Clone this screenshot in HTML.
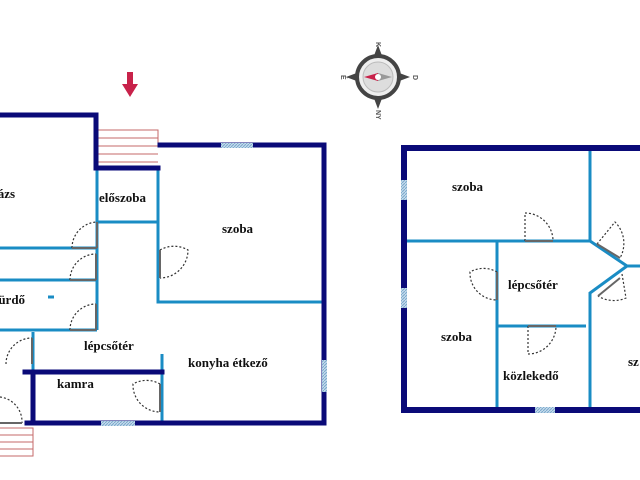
<!DOCTYPE html>
<html><head><meta charset="utf-8"><style>
html,body{margin:0;padding:0;background:#fff}
svg{display:block}
text{font-family:"Liberation Serif",serif;font-weight:bold;font-size:13px;fill:#111}
</style></head><body>
<svg width="640" height="480" viewBox="0 0 640 480" xmlns="http://www.w3.org/2000/svg">
<defs>
<pattern id="win" width="3" height="3" patternUnits="userSpaceOnUse"><rect width="3" height="3" fill="#c6dcec"/><path d="M0,3L3,0" stroke="#7aa8cc" stroke-width="1"/></pattern>
</defs>
<path d="M127,72h6v12h5l-8,13-8,-13h5z" fill="#c8224a"/>
<g stroke="#c46a6a" stroke-width="1" fill="none">
<path d="M98,130H158V145M98,138H158M98,146H158M98,154H158M98,162H158"/>
<path d="M0,428H33V456H0M0,435H33M0,442H33M0,449H33"/>
</g>
<g stroke="#1a8cc4" stroke-width="3" fill="none">
<path d="M97,170V330M97,222H158M158,170V302H322M0,248H97M0,280H97M0,330H97M33,332V372M162,354V423"/>
<path d="M48,297h6"/>
</g>
<g stroke="#0a0a78" stroke-width="5" fill="none" stroke-linecap="square">
<path d="M0,115H96V168H158M160,145H324V423H27"/>
<path d="M33,372V423M25,372H162"/>
</g>
<rect x="221" y="143" width="32" height="5" fill="url(#win)"/>
<rect x="322" y="360" width="5" height="32" fill="url(#win)"/>
<rect x="101" y="421" width="34" height="5" fill="url(#win)"/>
<g stroke="#333" stroke-width="1.2" stroke-dasharray="2,2" fill="none">
<path d="M72,248A26,26 0 0 1 97,222"/>
<path d="M70,280A26,26 0 0 1 96,254"/>
<path d="M70,330A26,26 0 0 1 96,304"/>
<path d="M160,250A28,28 0 0 1 188,250A28,28 0 0 1 160,278"/>
<path d="M6,364A26,26 0 0 1 32,338"/>
<path d="M160,384A27,27 0 0 0 133,384A27,27 0 0 0 160,412"/>
<path d="M0,397A25,25 0 0 1 22,423"/>
</g>
<g stroke="#666" stroke-width="2" fill="none">
<path d="M97,222V248M72,248H97M96,254V280M70,280H96M96,304V330M70,330H96M160,250V278M32,338V364M160,384V412M0,423H22"/>
</g>
<text x="-8" y="198">rázs</text>
<text x="99" y="202">előszoba</text>
<text x="222" y="233">szoba</text>
<text x="-6" y="304">fürdő</text>
<text x="84" y="350">lépcsőtér</text>
<text x="188" y="367">konyha étkező</text>
<text x="57" y="388">kamra</text>
<g stroke="#1a8cc4" stroke-width="3" fill="none">
<path d="M404,241H590V150M497,241V408M497,326H586M590,241L627,266H640M627,266L590,293V408"/>
</g>
<g stroke="#0a0a78" stroke-width="6" fill="none">
<path d="M640,148H404V410H640"/>
</g>
<rect x="401" y="180" width="6" height="20" fill="url(#win)"/>
<rect x="401" y="288" width="6" height="20" fill="url(#win)"/>
<rect x="535" y="407" width="20" height="6" fill="url(#win)"/>
<g stroke="#333" stroke-width="1.2" stroke-dasharray="2,2" fill="none">
<path d="M525,241V213A28,28 0 0 1 553,241"/>
<path d="M497,272A27,27 0 0 0 470,272A27,27 0 0 0 497,300"/>
<path d="M528,326V354A28,28 0 0 0 556,326"/>
<path d="M597,244L615,222A30,30 0 0 1 620,258"/>
<path d="M622,274L626,298A30,30 0 0 1 598,296"/>
</g>
<g stroke="#666" stroke-width="2" fill="none">
<path d="M525,241H553M497,272V300M528,326H556M597,244L620,258M620,278L598,296"/>
</g>
<text x="452" y="191">szoba</text>
<text x="508" y="289">lépcsőtér</text>
<text x="441" y="341">szoba</text>
<text x="503" y="380">közlekedő</text>
<text x="628" y="366">sz</text>
<g transform="translate(378,77)">
<path d="M0,-32L6,-16L-6,-16ZM0,32L6,16L-6,16ZM-32,0L-16,6L-16,-6ZM32,0L16,6L16,-6Z" fill="#444"/>
<circle r="21" fill="#eee" stroke="#444" stroke-width="4"/>
<circle r="15" fill="#ddd" stroke="#bbb"/>
<path d="M-14,0L0,-4L0,4Z" fill="#c8224a"/>
<path d="M14,0L0,-4L0,4Z" fill="#999"/>
<circle r="3" fill="#fff"/>
<text x="-2" y="-35" transform="rotate(90 -2 -35)" style="font-family:'Liberation Sans',sans-serif;font-size:7px;fill:#555">K</text>
<text x="35" y="-2" transform="rotate(90 35 -2)" style="font-family:'Liberation Sans',sans-serif;font-size:7px;fill:#555">D</text>
<text x="-2" y="33" transform="rotate(90 -2 33)" style="font-family:'Liberation Sans',sans-serif;font-size:7px;fill:#555">NY</text>
<text x="-37" y="-2" transform="rotate(90 -37 -2)" style="font-family:'Liberation Sans',sans-serif;font-size:7px;fill:#555">É</text>
</g>
</svg>
</body></html>
